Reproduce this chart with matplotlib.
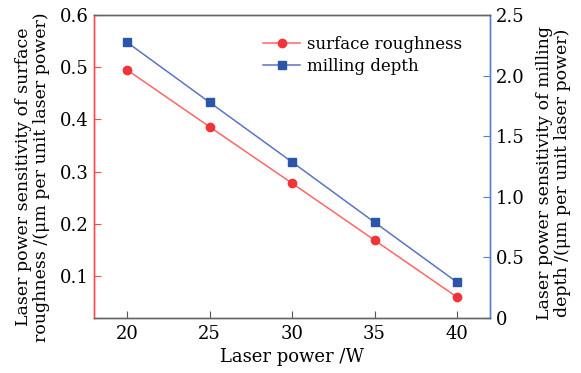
import matplotlib.pyplot as plt

power = [20, 25, 30, 35, 40]
roughness = [0.495, 0.386, 0.278, 0.169, 0.060]
depth = [2.275, 1.78, 1.287, 0.79, 0.295]

red = '#f0353a'
blue = '#2a55a8'

plt.rcParams['font.family'] = 'DejaVu Serif'
plt.rcParams['mathtext.fontset'] = 'dejavuserif'

fig = plt.figure(figsize=(5.81, 3.73), dpi=100)
ax = fig.add_axes([0.1618, 0.1475, 0.6816, 0.8123])
ax2 = ax.twinx()

l1, = ax.plot(power, roughness, color='#ff6666', lw=1.1, marker='o', ms=6,
              mfc=red, mec=red, label='surface roughness')
l2, = ax2.plot(power, depth, color='#5b74c4', lw=1.1, marker='s', ms=5.5,
               mfc=blue, mec=blue, label='milling depth')

ax.set_xlim(18, 42)
ax.set_ylim(0.02, 0.6)
ax2.set_ylim(0, 2.5)
ax.set_xticks(power)
ax.set_yticks([0.1, 0.2, 0.3, 0.4, 0.5, 0.6])
ax2.set_yticks([0, 0.5, 1.0, 1.5, 2.0, 2.5])
ax2.set_yticklabels(['0', '0.5', '1.0', '1.5', '2.0', '2.5'])

for a in (ax, ax2):
    a.spines['top'].set_color('#666666')
    a.spines['bottom'].set_color('#666666')
    a.spines['left'].set_color('#ff4a4a')
    a.spines['right'].set_color('#5a7ccc')
    for s in a.spines.values():
        s.set_linewidth(1.0)

ax.tick_params(axis='x', direction='in', length=5, colors='#555555',
               labelcolor='black', labelsize=13, pad=5)
ax.tick_params(axis='y', direction='in', length=5, colors='#ff4a4a',
               labelcolor='black', labelsize=13, pad=4)
ax2.tick_params(axis='y', direction='in', length=5, colors='#5a7ccc',
                labelcolor='black', labelsize=13, pad=4)

ax.set_xlabel('Laser power /W', fontsize=13, labelpad=4)
ax.set_ylabel('Laser power sensitivity of surface\nroughness /(μm per unit laser power)',
              fontsize=12.5, linespacing=1.1, va='center')
ax2.set_ylabel('Laser power sensitivity of milling\ndepth /(μm per unit laser power)',
               fontsize=12.5, linespacing=1.1, rotation=90, va='center')
ax.yaxis.set_label_coords(-0.155, 0.465)
ax2.yaxis.set_label_coords(1.16, 0.48)

ax.legend(handles=[l1, l2], loc='upper left', bbox_to_anchor=(0.39, 0.98),
          frameon=False, fontsize=12, handlelength=2.2, handletextpad=0.4,
          labelspacing=0.3)

fig.savefig('out.png', dpi=100)
